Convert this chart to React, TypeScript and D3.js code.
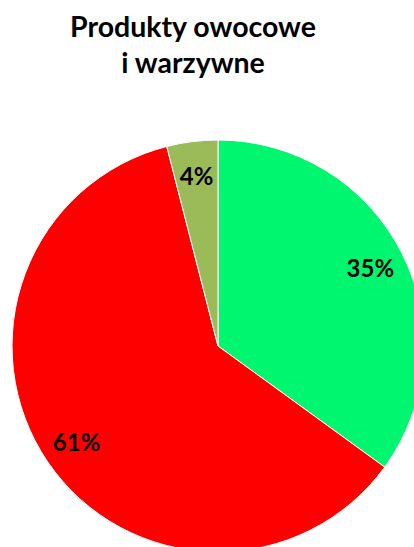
import React from "react";
import * as d3 from "d3";

const categories = ["Owoce", "Warzywa", "Inne"];
const values = [35, 61, 4];
const colors = ["#00F66E", "#FF0000", "#9BBB59"];
const titleLines = ["Produkty owocowe", "i warzywne"];

const W = 414;
const H = 547;

const App = () => {
  const cx = 218;
  const cy = 346;
  const r = 206;

  const pie = d3
    .pie<number>()
    .sort(null)
    .value((d) => d);
  const arcs = pie(values);

  const arc = d3.arc<d3.PieArcDatum<number>>().innerRadius(0).outerRadius(r);
  const labelArc = d3
    .arc<d3.PieArcDatum<number>>()
    .innerRadius(r * 0.83)
    .outerRadius(r * 0.83);

  return (
    <svg
      width={W}
      height={H}
      style={{ position: "absolute", left: 0, top: 0, display: "block" }}
      fontFamily="Lato, 'Open Sans', sans-serif"
    >
      <rect width={W} height={H} fill="#fff" />
      {titleLines.map((t, i) => (
        <text
          key={t}
          x={193}
          y={37 + i * 36}
          textAnchor="middle"
          fontSize={28.5}
          fontWeight="bold"
          fill="#000"
        >
          {t}
        </text>
      ))}
      <g transform={`translate(${cx},${cy})`}>
        {arcs.map((a, i) => (
          <path
            key={categories[i]}
            d={arc(a) || ""}
            fill={colors[i]}
            stroke="#fff"
            strokeWidth={1}
          />
        ))}
        {arcs.map((a, i) => {
          const [x, y] = labelArc.centroid(a);
          return (
            <text
              key={"l" + categories[i]}
              x={x}
              y={y}
              dy="0.35em"
              textAnchor="middle"
              fontSize={24}
              fontWeight="bold"
              fill="#000"
            >
              {values[i]}%
            </text>
          );
        })}
      </g>
    </svg>
  );
};

export default App;
